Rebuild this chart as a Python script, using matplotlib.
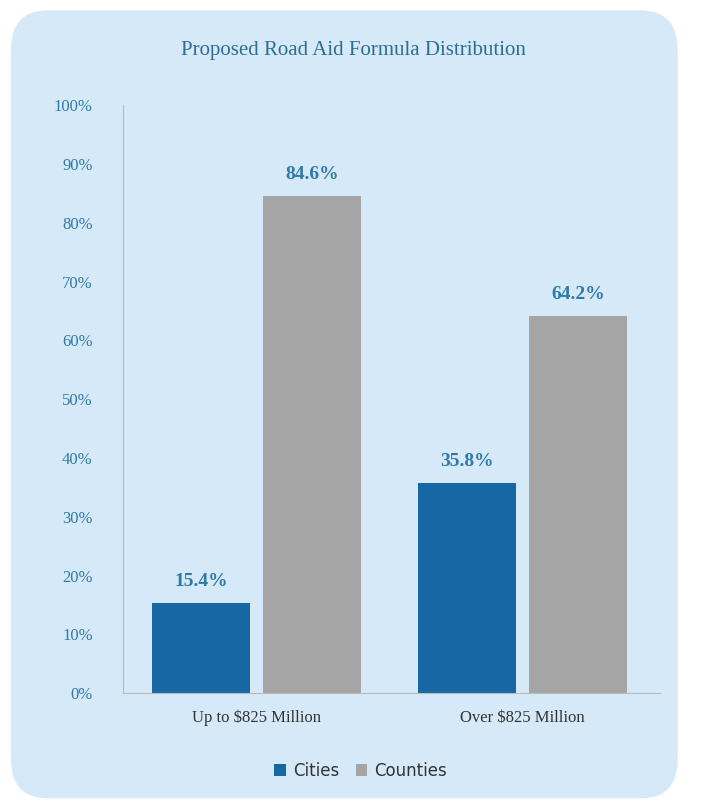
import matplotlib.pyplot as plt
from matplotlib.patches import FancyBboxPatch
import numpy as np

groups = ["Up to $825 Million", "Over $825 Million"]
cities = [15.4, 35.8]
counties = [84.6, 64.2]

city_color = "#1767a5"
county_color = "#a5a5a5"
text_color = "#2f7aa6"
serif = ["Liberation Serif", "DejaVu Serif"]

fig = plt.figure(figsize=(7.21, 8.08), dpi=100)
fig.patch.set_facecolor("white")

# rounded light-blue panel behind everything
bg = fig.add_axes([0, 0, 1, 1], zorder=-1)
bg.axis("off")
bg.add_patch(FancyBboxPatch((0.015, 0.012), 0.925, 0.975, boxstyle="round,pad=0,rounding_size=0.05",
                            transform=bg.transAxes, facecolor="#d5e9f8", edgecolor="none"))

ax = fig.add_axes([0.171, 0.142, 0.744, 0.728], zorder=1)
ax.set_facecolor("none")

x = np.arange(len(groups))
w = 0.368
off = 0.209
b1 = ax.bar(x - off, cities, w, color=city_color, label="Cities")
b2 = ax.bar(x + off, counties, w, color=county_color, label="Counties")
for bars in (b1, b2):
    for bar in bars:
        ax.text(bar.get_x() + bar.get_width() / 2, bar.get_height() + 2.2,
                f"{bar.get_height():.1f}%", ha="center", va="bottom",
                fontsize=14, fontweight="bold", color=text_color, family=serif)

ax.set_xlim(-0.502, 1.517)
ax.set_ylim(0, 100)
ax.set_yticks(range(0, 101, 10))
ax.set_yticklabels([f"{v}%" for v in range(0, 101, 10)], family=serif, fontsize=12, color=text_color)
ax.set_xticks(x)
ax.set_xticklabels(groups, family=serif, fontsize=12, color="#333333")
ax.tick_params(axis="both", length=0, pad=12)
ax.tick_params(axis="y", pad=22)
for s in ("top", "right"):
    ax.spines[s].set_visible(False)
ax.spines["left"].set_color("#bbbbbb")
ax.spines["bottom"].set_color("#bbbbbb")

fig.text(0.49, 0.937, "Proposed Road Aid Formula Distribution", ha="center", va="center",
         family=serif, fontsize=15, color="#2e6d93")

fig.legend(loc="center", bbox_to_anchor=(0.5, 0.046), ncol=2, frameon=False,
           fontsize=12, handlelength=0.7, handleheight=0.7, columnspacing=1.0,
           handletextpad=0.4, labelcolor="#333333")

fig.savefig("out.png", dpi=100)
